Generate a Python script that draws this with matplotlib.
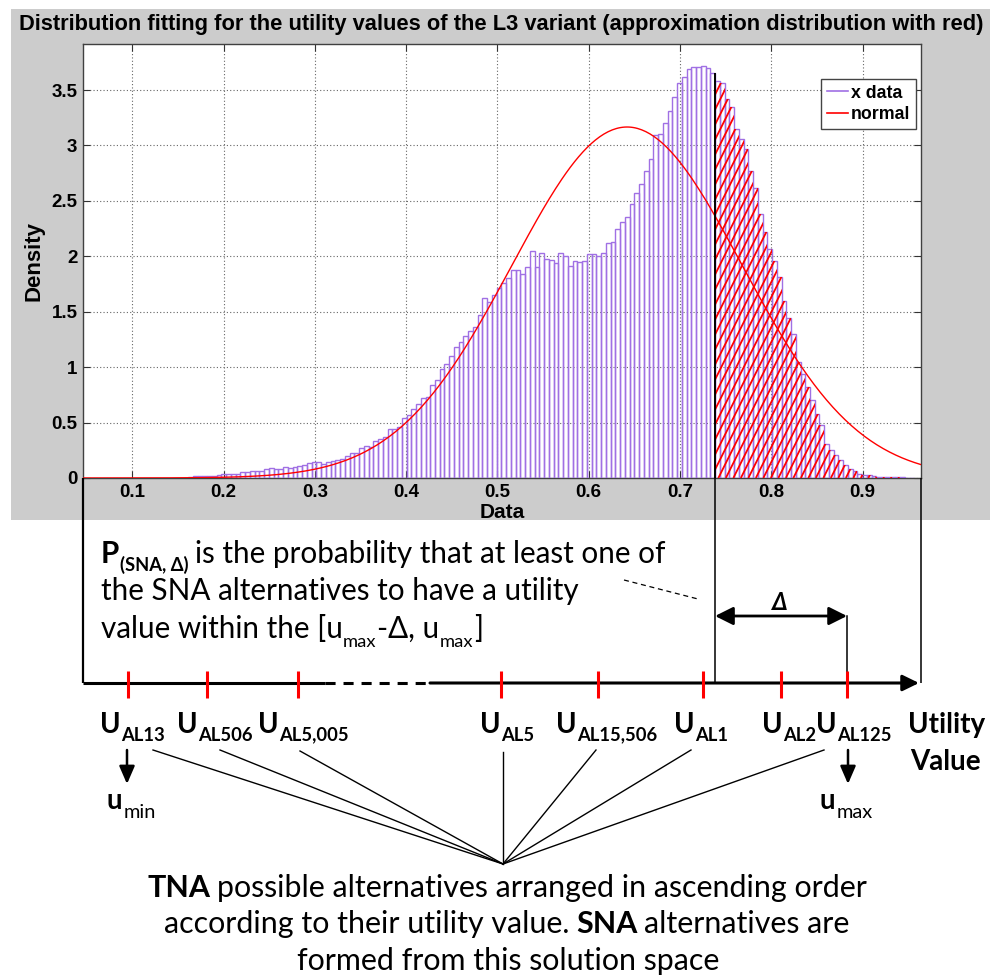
import numpy as np
import matplotlib
matplotlib.use("Agg")
import matplotlib.pyplot as plt
from matplotlib.patches import Rectangle, Polygon, FancyArrowPatch
from matplotlib.lines import Line2D
from matplotlib.collections import LineCollection

# ---------------- data ----------------
title_text = "Distribution fitting for the utility values of the L3 variant (approximation distribution with red)"
bin_start = 0.1612
bin_width = 0.0052
density = [
    0.005, 0.02, 0.02, 0.02, 0.02, 0.02, 0.025, 0.035, 0.04, 0.04,
    0.04, 0.05, 0.055, 0.06, 0.06, 0.065, 0.08, 0.09, 0.085, 0.08,
    0.10, 0.09, 0.095, 0.11, 0.12, 0.135, 0.14, 0.14, 0.13, 0.14,
    0.155, 0.16, 0.175, 0.20, 0.23, 0.23, 0.27, 0.29, 0.28, 0.33,
    0.35, 0.37, 0.44, 0.44, 0.46, 0.54, 0.57, 0.62, 0.67, 0.72,
    0.73, 0.84, 0.88, 0.98, 1.03, 1.10, 1.18, 1.23, 1.28, 1.33,
    1.36, 1.47, 1.62, 1.59, 1.65, 1.71, 1.76, 1.80, 1.88, 1.88,
    1.84, 1.90, 2.05, 1.90, 2.03, 1.98, 1.97, 1.94, 2.03, 2.00,
    1.91, 1.96, 1.95, 1.96, 2.02, 2.02, 2.00, 2.03, 2.12, 2.13,
    2.25, 2.31, 2.35, 2.47, 2.57, 2.65, 2.77, 2.88, 3.09, 3.10,
    3.20, 3.31, 3.44, 3.56, 3.62, 3.69, 3.71, 3.71, 3.72, 3.70,
    3.65, 3.58, 3.56, 3.42, 3.35, 3.15, 3.06, 2.97, 2.77, 2.62,
    2.38, 2.22, 2.07, 1.96, 1.81, 1.60, 1.44, 1.30, 1.05, 0.94,
    0.82, 0.70, 0.58, 0.48, 0.31, 0.25, 0.21, 0.16, 0.12, 0.08,
    0.06, 0.04, 0.03, 0.025, 0.02, 0.01, 0.01, 0.01, 0.008, 0.005,
    0.005, 0.004, 0.003]
cut_value = 0.7384          # u_max - delta
fit_mu = 0.642
fit_sigma = 0.126
x_ticks = [0.1, 0.2, 0.3, 0.4, 0.5, 0.6, 0.7, 0.8, 0.9]
x_ticklabels = ["0.1", "0.2", "0.3", "0.4", "0.5", "0.6", "0.7", "0.8", "0.9"]
y_ticks = [0, 0.5, 1, 1.5, 2, 2.5, 3, 3.5]
y_ticklabels = ["0", "0.5", "1", "1.5", "2", "2.5", "3", "3.5"]
x_limits = (0.046, 0.964)
y_limits = (0.0, 3.915)
legend_labels = ["x data", "normal"]
alt_subs = ["AL13", "AL506", "AL5,005", "AL5", "AL15,506", "AL1", "AL2", "AL125"]
para_lines = ["is the probability that at least one of",
              "the SNA alternatives to have a utility"]
bottom_lines = ["possible alternatives arranged in ascending order",
                "according to their utility value.",
                "alternatives are",
                "formed from this solution space"]

# ---------------- layout (pixels) ----------------
W, H = 1003, 976
DPI = 100
PURPLE = "#a070e4"
FAM_UI = ["Lato", "DejaVu Sans"]
FAM_PLOT = ["Liberation Sans", "DejaVu Sans"]

fig = plt.figure(figsize=(W / DPI, H / DPI), dpi=DPI, facecolor="white")
R = fig.canvas.get_renderer()

bg = fig.add_axes([0, 0, 1, 1], zorder=0)
bg.set_xlim(0, W); bg.set_ylim(H, 0); bg.axis("off")
bg.add_patch(Rectangle((11, 9), 979, 511, facecolor="#cccccc", edgecolor="none"))

AX_L, AX_R, AX_T, AX_B = 83, 921, 44, 478
ax = fig.add_axes([AX_L / W, 1 - AX_B / H, (AX_R - AX_L) / W, (AX_B - AX_T) / H], zorder=1)
ax.set_facecolor("white")
ax.set_xlim(*x_limits)
ax.set_ylim(*y_limits)

edges = bin_start + bin_width * np.arange(len(density) + 1)
ax.bar(edges[:-1], density, width=bin_width, align="edge", fill=False,
       edgecolor=PURPLE, linewidth=1.0, zorder=3)

# hatched region right of the cut
ci = int(round((cut_value - bin_start) / bin_width))
verts = [(edges[ci], 0)]
for i in range(ci, len(density)):
    verts.append((edges[i], density[i]))
    verts.append((edges[i + 1], density[i]))
verts.append((edges[-1], 0))
clip_poly = Polygon(verts, closed=True, facecolor="none", edgecolor="none",
                    transform=ax.transData)
ax.add_patch(clip_poly)
sx = (AX_R - AX_L) / (x_limits[1] - x_limits[0])
sy = (AX_B - AX_T) / (y_limits[1] - y_limits[0])
m = 2.0 * sx / sy
dx = 7.5 / sx
segs = []
x0 = edges[ci] - 4.0 / m
while x0 < edges[-1]:
    segs.append([(x0, 0), (x0 + 4.0 / m, 4.0)])
    x0 += dx
lc = LineCollection(segs, colors="red", linewidths=1.3, zorder=4)
ax.add_collection(lc)
lc.set_clip_path(clip_poly)

# fitted normal
xs = np.linspace(x_limits[0], x_limits[1], 400)
pdf = np.exp(-0.5 * ((xs - fit_mu) / fit_sigma) ** 2) / (fit_sigma * np.sqrt(2 * np.pi))
ax.plot(xs, pdf, color="red", lw=1.0, zorder=6)

# cut line
hcut = max(density[ci - 1], density[ci])
ax.plot([cut_value, cut_value], [0, hcut], color="black", lw=1.4, zorder=7,
        solid_capstyle="butt")

ax.set_xticks(x_ticks)
ax.set_xticklabels(x_ticklabels)
ax.set_yticks(y_ticks)
ax.set_yticklabels(y_ticklabels)
ax.tick_params(direction="in", length=5, width=0.8, top=True, right=True,
               labelsize=13.5, pad=4, colors="#333333", labelcolor="black")
for lab in ax.get_xticklabels() + ax.get_yticklabels():
    lab.set_fontweight("bold"); lab.set_family(FAM_PLOT)
ax.grid(True, linestyle=(0, (1, 2)), color="#666666", lw=0.8)
ax.set_axisbelow(True)
for s in ax.spines.values():
    s.set_color("#404040"); s.set_linewidth(1.0)
ax.set_xlabel("Data", fontsize=15, fontweight="bold", family=FAM_PLOT, labelpad=2)
ax.set_ylabel("Density", fontsize=16, fontweight="bold", family=FAM_PLOT, labelpad=5)

h1 = Line2D([], [], color=PURPLE, lw=1.2)
h2 = Line2D([], [], color="red", lw=1.2)
leg = ax.legend([h1, h2], legend_labels, loc="upper right",
                bbox_to_anchor=(916 / W, 1 - 79 / H), bbox_transform=fig.transFigure,
                borderaxespad=0, prop=dict(family=FAM_PLOT, weight="bold", size=12.8),
                handlelength=1.2, handletextpad=0.15, borderpad=0.32, labelspacing=0.25,
                frameon=True, fancybox=False, framealpha=1, edgecolor="#444444")
leg.get_frame().set_linewidth(1.0)
leg.set_zorder(10)

# ---------------- overlay diagram ----------------
ov = fig.add_axes([0, 0, 1, 1], zorder=2)
ov.set_xlim(0, W); ov.set_ylim(H, 0); ov.axis("off")
ov.patch.set_alpha(0)


def to_px(x, y):
    d = ax.transData.transform((x, y))
    return d[0], H - d[1]


def draw_runs(x, y, parts, ha="left", scale=1.0, measure=False):
    arts = []
    cx = x
    for p in parts:
        t, size, weight, dy, gap = p[:5]
        style = p[5] if len(p) > 5 else "normal"
        cx += gap * size * scale * (100 / 72.0)
        a = ov.text(cx, y + dy * scale, t, fontsize=size * scale, fontweight=weight,
                    fontstyle=style, family=FAM_UI, va="baseline", ha="left")
        cx += a.get_window_extent(renderer=R).width
        arts.append(a)
    total = cx - x
    if measure:
        for a in arts:
            a.remove()
        return total
    if ha == "center":
        for a in arts:
            px, py = a.get_position()
            a.set_position((px - total / 2, py))
    return arts


def fit_scale(parts, target):
    return target / draw_runs(0, 0, parts, measure=True)


SP = 0.22
# title
t_tmp = ov.text(0, 0, title_text, fontsize=15, fontweight="bold", family=FAM_PLOT)
tw = t_tmp.get_window_extent(renderer=R).width
t_tmp.remove()
ov.text(501.5, 30, title_text, fontsize=15 * 971 / tw, fontweight="bold",
        family=FAM_PLOT, ha="center", va="baseline")

# paragraph
sP = 18
pl1 = [("P", sP, "bold", 0, 0), ("(SNA, \u0394)", sP * 0.62, "bold", 7, 0.03),
       (para_lines[0], sP, "normal", 0, SP)]
pl2 = [(para_lines[1], sP, "normal", 0, 0)]
pl3 = [("value within the [u", sP, "normal", 0, 0), ("max", sP * 0.62, "normal", 8, 0.02),
       ("-\u0394, u", sP, "normal", 0, 0.02), ("max", sP * 0.62, "normal", 8, 0.02),
       ("]", sP, "normal", 0, 0.02)]
kP = fit_scale(pl2, 476)
draw_runs(101, 563, pl1, scale=kP)
draw_runs(101, 600, pl2, scale=kP)
draw_runs(101, 638, pl3, scale=kP)

# vertical guide lines
xl_px, yb_px = to_px(x_limits[0], 0)
xr_px, _ = to_px(x_limits[1], 0)
xc_px, _ = to_px(cut_value, 0)
AXIS_Y = 683
ov.plot([xl_px, xl_px], [yb_px, AXIS_Y], color="black", lw=1.6, solid_capstyle="butt")
ov.plot([xr_px, xr_px], [yb_px, AXIS_Y], color="black", lw=1.1, solid_capstyle="butt")
ov.plot([xc_px, xc_px], [yb_px, AXIS_Y], color="black", lw=1.1, solid_capstyle="butt")

# utility axis
ov.plot([xl_px, 325], [AXIS_Y, AXIS_Y], color="black", lw=2.2, solid_capstyle="butt")
ov.plot([325, 430], [AXIS_Y, AXIS_Y], color="black", lw=2.2, ls=(0, (3.3, 2.6)))
ov.add_patch(FancyArrowPatch((430, AXIS_Y), (xr_px - 2, AXIS_Y), arrowstyle="-|>,head_length=0.45,head_width=0.22",
                             mutation_scale=22, lw=2.2, color="black", shrinkA=0, shrinkB=0))

tick_px = [128, 207, 298, 501, 598, 703, 781, 847]
for tx in tick_px:
    ov.plot([tx, tx], [671, 698], color="red", lw=2.2, solid_capstyle="butt", zorder=5)

# delta arrow
ov.add_patch(FancyArrowPatch((xc_px, 616), (847, 616), arrowstyle="<|-|>,head_length=0.5,head_width=0.25",
                             mutation_scale=22, lw=2.0, color="black", shrinkA=0, shrinkB=0))
ov.plot([847, 847], [616, AXIS_Y], color="black", lw=1.1)
ov.text(780, 610, "\u0394", fontsize=17, fontweight="bold", fontstyle="italic",
        family=FAM_UI, ha="center", va="baseline")
ov.plot([624, 698], [580, 599], color="black", lw=0.9, ls=(0, (4, 3)))

# U labels
sU = 21
u_left = [100, 177, 258, 480, 556, 674, 762, 816]
kU = fit_scale([("U", sU, "bold", 0, 0), (alt_subs[4], sU * 0.66, "bold", 8, 0.02)], 101)
for lx, sub in zip(u_left, alt_subs):
    draw_runs(lx, 733, [("U", sU, "bold", 0, 0), (sub, sU * 0.66, "bold", 8, 0.02)], scale=kU)
ov.text(908, 733, "Utility", fontsize=sU * kU, fontweight="bold", family=FAM_UI, va="baseline")
ov.text(910, 770, "Value", fontsize=sU * kU, fontweight="bold", family=FAM_UI, va="baseline")

# down arrows and u_min / u_max
for axp in (127, 848):
    ov.add_patch(FancyArrowPatch((axp, 750), (axp, 784), arrowstyle="-|>,head_length=0.6,head_width=0.26",
                                 mutation_scale=18, lw=1.8, color="black", shrinkA=0, shrinkB=0))
su = 20
draw_runs(107, 809, [("u", su, "bold", 0, 0), ("min", su * 0.72, "normal", 9, 0.04)])
draw_runs(820, 809, [("u", su, "bold", 0, 0), ("max", su * 0.72, "normal", 9, 0.04)])

# converging lines
starts = [(153, 750), (220, 750), (300, 751), (503, 752), (596, 750), (691, 750), (824, 750)]
for (sx0, sy0) in starts:
    ov.plot([sx0, 503], [sy0, 864], color="black", lw=1.0)

# bottom paragraph
sB = 18
bl1 = [("TNA", sB, "bold", 0, 0), (bottom_lines[0], sB, "normal", 0, SP)]
bl2 = [(bottom_lines[1], sB, "normal", 0, 0), ("SNA", sB, "bold", 0, SP),
       (bottom_lines[2], sB, "normal", 0, SP)]
bl3 = [(bottom_lines[3], sB, "normal", 0, 0)]
kB = fit_scale(bl1, 718)
draw_runs(507, 897, bl1, ha="center", scale=kB)
draw_runs(507, 933, bl2, ha="center", scale=kB)
draw_runs(508, 970, bl3, ha="center", scale=kB)

fig.savefig("out.png", dpi=DPI, facecolor="white")
